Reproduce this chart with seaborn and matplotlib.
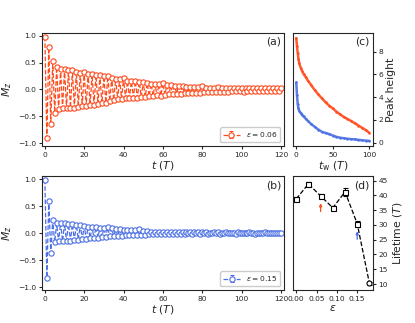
import numpy as np
import pandas as pd
import matplotlib
matplotlib.use("Agg")
import matplotlib.pyplot as plt
import seaborn as sns

# M_z(t) (a) and (b): even and odd periods
mz_a_even = [0.98, 0.78, 0.53, 0.42, 0.38, 0.38, 0.37, 0.36, 0.33, 0.31,
             0.33, 0.29, 0.28, 0.27, 0.26, 0.25, 0.25, 0.22, 0.20, 0.19,
             0.21, 0.16, 0.15, 0.16, 0.14, 0.14, 0.12, 0.11, 0.10, 0.10,
             0.12, 0.08, 0.08, 0.07, 0.07, 0.06, 0.05, 0.05, 0.05, 0.04,
             0.06, 0.03, 0.03, 0.03, 0.04, 0.02, 0.03, 0.02, 0.02, 0.03,
             0.03, 0.02, 0.02, 0.02, 0.03, 0.02, 0.02, 0.02, 0.03, 0.02,
             0.02]
mz_a_odd = [-0.90, -0.65, -0.43, -0.37, -0.35, -0.35, -0.34, -0.34, -0.32, -0.31,
            -0.30, -0.29, -0.28, -0.27, -0.26, -0.25, -0.22, -0.20, -0.18, -0.17,
            -0.16, -0.15, -0.15, -0.15, -0.14, -0.14, -0.13, -0.12, -0.11, -0.12,
            -0.10, -0.09, -0.09, -0.08, -0.08, -0.07, -0.07, -0.06, -0.06, -0.07,
            -0.05, -0.05, -0.05, -0.04, -0.04, -0.04, -0.04, -0.03, -0.03, -0.03,
            -0.04, -0.03, -0.03, -0.02, -0.03, -0.02, -0.02, -0.03, -0.02, -0.02]
mz_b_even = [0.99, 0.60, 0.24, 0.18, 0.19, 0.18, 0.17, 0.17, 0.16, 0.15,
             0.13, 0.12, 0.11, 0.12, 0.10, 0.10, 0.11, 0.09, 0.08, 0.07,
             0.06, 0.06, 0.05, 0.05, 0.07, 0.04, 0.04, 0.03, 0.03, 0.03,
             0.03, 0.03, 0.02, 0.02, 0.03, 0.02, 0.02, 0.02, 0.02, 0.03,
             0.02, 0.02, 0.01, 0.02, 0.02, 0.01, 0.02, 0.01, 0.01, 0.02,
             0.01, 0.01, 0.02, 0.01, 0.01, 0.01, 0.02, 0.01, 0.01, 0.01,
             0.01]
mz_b_odd = [-0.82, -0.37, -0.17, -0.15, -0.15, -0.14, -0.14, -0.13, -0.12, -0.11,
            -0.10, -0.09, -0.09, -0.08, -0.07, -0.07, -0.06, -0.06, -0.05, -0.05,
            -0.04, -0.04, -0.04, -0.03, -0.03, -0.03, -0.02, -0.02, -0.02, -0.02,
            -0.02, -0.01, -0.01, -0.01, -0.01, -0.01, 0.00, -0.01, 0.00, -0.01,
            0.00, -0.01, 0.00, 0.00, -0.01, 0.00, 0.00, 0.00, -0.01, 0.00,
            0.00, 0.00, 0.00, -0.01, 0.00, 0.00, 0.00, 0.00, 0.00, 0.00]
mz_err = 0.01

# panel (c): peak height vs waiting time
tw = [0, 1, 2, 3, 4, 6, 8, 10, 13, 16, 20, 25, 30, 35, 40, 45, 50,
      55, 60, 65, 70, 75, 80, 85, 90, 95, 100]
peak_a = [9.2, 8.5, 7.9, 7.4, 7.0, 6.6, 6.3, 6.05, 5.75, 5.45, 5.1, 4.65, 4.25,
          3.9, 3.55, 3.25, 3.0, 2.72, 2.48, 2.25, 2.08, 1.9, 1.7, 1.5, 1.3, 1.1, 0.85]
peak_b = [5.3, 4.2, 3.4, 3.0, 2.8, 2.6, 2.45, 2.3, 2.1, 1.9, 1.65, 1.4, 1.15,
          0.95, 0.85, 0.75, 0.62, 0.5, 0.43, 0.38, 0.34, 0.3, 0.28, 0.24, 0.2, 0.17, 0.15]

# panel (d): lifetime vs epsilon
eps = [0.00, 0.03, 0.06, 0.09, 0.12, 0.15, 0.18]
lifetime = [38.8, 43.9, 39.8, 35.8, 41.2, 30.4, 10.2]
lifetime_err = [0.6, 0.8, 0.8, 0.7, 1.3, 1.0, 0.5]

orange = "#ff4a1c"
blue = "#4a6fe3"

sns.set_style("ticks")
plt.rcParams["font.family"] = ["DejaVu Sans"]
plt.rcParams["mathtext.fontset"] = "dejavusans"

t = np.arange(121)
mz_a = np.empty(121)
mz_a[0::2] = mz_a_even
mz_a[1::2] = mz_a_odd
mz_b = np.empty(121)
mz_b[0::2] = mz_b_even
mz_b[1::2] = mz_b_odd

fig = plt.figure(figsize=(4.15, 3.23), dpi=100)
ax_a = fig.add_axes([0.101, 0.548, 0.583, 0.350])
ax_b = fig.add_axes([0.101, 0.102, 0.583, 0.352])
ax_c = fig.add_axes([0.705, 0.548, 0.194, 0.350])
ax_d = fig.add_axes([0.705, 0.102, 0.194, 0.352])

tick_fs = 5.4
lab_fs = 7.8

for ax, mz, col, lab, tag in [(ax_a, mz_a, orange, r"$\varepsilon = 0.06$", "(a)"),
                              (ax_b, mz_b, blue, r"$\varepsilon = 0.15$", "(b)")]:
    ax.errorbar(t, mz, yerr=mz_err, fmt="o", ls="--", color=col, lw=0.9,
                ms=3.8, mfc="white", mew=0.8, capsize=1.5, elinewidth=0.6,
                label=lab)
    ax.set_xlim(-1.5, 121.5)
    ax.set_ylim(-1.05, 1.05)
    ax.set_xticks([0, 20, 40, 60, 80, 100, 120])
    ax.set_yticks([-1.0, -0.5, 0.0, 0.5, 1.0])
    ax.set_xlabel(r"$t$ $(T)$", fontsize=lab_fs, labelpad=1)
    ax.set_ylabel(r"$M_z$", fontsize=lab_fs, labelpad=3)
    ax.tick_params(labelsize=tick_fs, length=2.5, pad=1.5)
    ax.legend(loc="lower right", fontsize=5.4, handlelength=2.2,
              borderpad=0.4, framealpha=1, edgecolor="#cccccc")
    ax.text(0.99, 0.965, tag, transform=ax.transAxes, ha="right", va="top",
            fontsize=lab_fs)

df_c = pd.DataFrame({"tw": tw * 2, "peak": peak_a + peak_b,
                     "eps": ["0.06"] * len(tw) + ["0.15"] * len(tw)})
sns.lineplot(data=df_c, x="tw", y="peak", hue="eps", palette=[orange, blue],
             lw=1.8, marker=".", ms=2, mec=None, alpha=0.9, legend=False, ax=ax_c)
ax_c.set_xticks([0, 50, 100])
ax_c.set_yticks([0, 2, 4, 6, 8])
ax_c.yaxis.tick_right()
ax_c.yaxis.set_label_position("right")
ax_c.set_xlabel(r"$t_{\rm w}$ $(T)$", fontsize=lab_fs, labelpad=1)
ax_c.set_ylabel("Peak height", fontsize=lab_fs, labelpad=2)
ax_c.tick_params(labelsize=tick_fs, length=2.5, pad=1.5)
ax_c.text(0.96, 0.965, "(c)", transform=ax_c.transAxes, ha="right", va="top",
          fontsize=lab_fs)

ax_d.plot(eps, lifetime, ls="--", color="black", lw=0.9)
ax_d.errorbar(eps[:-1], lifetime[:-1], yerr=lifetime_err[:-1], fmt="s", color="black",
              ms=3.6, mfc="white", mew=0.8, capsize=1.8, elinewidth=0.7)
ax_d.errorbar(eps[-1:], lifetime[-1:], yerr=lifetime_err[-1:], fmt="o", color="black",
              ms=3.6, mfc="white", mew=0.8, capsize=1.8, elinewidth=0.7)
ax_d.annotate("", xy=(0.06, 38.3), xytext=(0.06, 33.6),
              arrowprops=dict(arrowstyle="-|>", color=orange, lw=0.9,
                              mutation_scale=4))
ax_d.annotate("", xy=(0.15, 28.8), xytext=(0.15, 24.2),
              arrowprops=dict(arrowstyle="-|>", color=blue, lw=0.9,
                              mutation_scale=4))
ax_d.set_xticks([0.00, 0.05, 0.10, 0.15])
ax_d.set_yticks([10, 15, 20, 25, 30, 35, 40, 45])
ax_d.yaxis.tick_right()
ax_d.yaxis.set_label_position("right")
ax_d.set_xlabel(r"$\varepsilon$", fontsize=lab_fs, labelpad=1)
ax_d.set_ylabel(r"Lifetime $(T)$", fontsize=lab_fs, labelpad=2)
ax_d.tick_params(labelsize=tick_fs, length=2.5, pad=1.5)
ax_d.text(0.96, 0.965, "(d)", transform=ax_d.transAxes, ha="right", va="top",
          fontsize=lab_fs)

fig.savefig("out.png", dpi=100)
